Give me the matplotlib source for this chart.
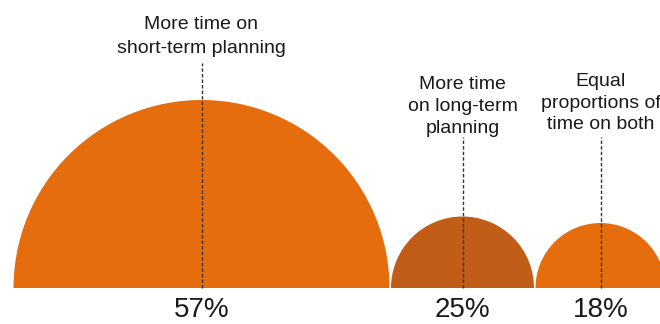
import matplotlib.pyplot as plt
from matplotlib.patches import Wedge

plt.rcParams['font.family'] = ['Liberation Sans', 'DejaVu Sans']

labels = ["More time on\nshort-term planning",
          "More time\non long-term\nplanning",
          "Equal\nproportions of\ntime on both"]
values = [57, 25, 18]
radius = [188, 71.5, 65]          # (px)
colors = ["#e66d0e", "#c15d18", "#e66d0e"]
label_top = [308, 248, 251]       # top of the label text block
label_spacing = [1.55, 1.38, 1.35]
line_top = [261, 187, 187]        # top of the dashed leader line

fig = plt.figure(figsize=(6.6, 3.24), dpi=100)
ax = fig.add_axes([0, 0, 1, 1])
ax.set_xlim(0, 660)
ax.set_ylim(0, 324)
ax.axis('off')

base = 36
x = 13.5
for i in range(len(values)):
    cx = x + radius[i]
    ax.add_patch(Wedge((cx, base), radius[i], 0, 180, color=colors[i], lw=0))
    ax.plot([cx, cx], [base, line_top[i]], ls=(0, (2.5, 1.5)), color="#333333", lw=1)
    ax.text(cx, label_top[i], labels[i], ha='center', va='top', fontsize=14,
            color="#1a1a1a", linespacing=label_spacing[i])
    ax.text(cx, 1, f"{values[i]}%", ha='center', va='bottom', fontsize=20, color="#1a1a1a")
    x = cx + radius[i] + 1.5

fig.savefig("out.png", dpi=100)
